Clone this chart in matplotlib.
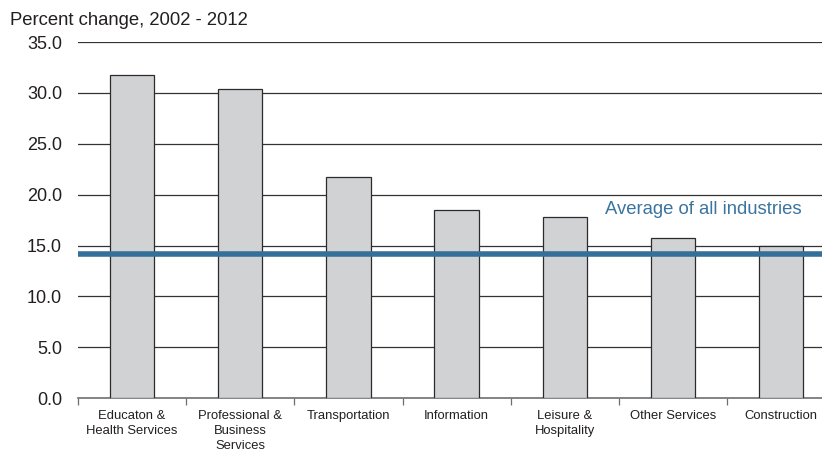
import numpy as np
import matplotlib
matplotlib.use("Agg")
import matplotlib.pyplot as plt

plt.rcParams['font.family'] = ['Liberation Sans', 'DejaVu Sans']

# data
categories = ["Educaton &\nHealth Services", "Professional &\nBusiness\nServices",
              "Transportation", "Information", "Leisure &\nHospitality",
              "Other Services", "Construction"]
pct_change = [31.8, 30.4, 21.7, 18.5, 17.8, 15.7, 15.0]
all_industries_avg = 14.2
y_ticks = [0, 5, 10, 15, 20, 25, 30, 35]

fig = plt.figure(figsize=(8.22, 4.53), dpi=100)
# plot area runs a little past the right edge of the image, as in the original
ax = fig.add_axes([0.095, 0.121, 0.921, 0.786])

x = np.arange(len(categories))
ax.bar(x, pct_change, width=0.41, color='#d1d2d4', edgecolor='#2b2b2b',
       linewidth=0.9, zorder=3)

ax.axhline(all_industries_avg, color='#35709a', linewidth=4, zorder=4)
ax.text(6.19, 18.5, "Average of all industries", color='#3a74a0',
        fontsize=13.3, ha='right', va='center')

ax.set_xlim(-0.5, len(categories) - 0.5)
ax.set_ylim(0, 35)
ax.set_yticks(y_ticks)
ax.set_yticklabels([f"{v:.1f}" for v in y_ticks], fontsize=13, color='#231f20')
for v in y_ticks[1:]:
    ax.axhline(v, color='#333333', linewidth=0.9, zorder=1)

# category labels centred, ticks at boundaries
ax.set_xticks(np.arange(len(categories) + 1) - 0.5)
ax.set_xticklabels([])
ax.tick_params(axis='x', length=5, width=0.9, color='#6d6e71', direction='out')
ax.tick_params(axis='y', length=0, pad=11.5)
for i, c in enumerate(categories):
    ax.text(i, -1.2, c, ha='center', va='top', fontsize=9.4, color='#231f20',
            linespacing=1.3)

for s in ['top', 'right', 'left']:
    ax.spines[s].set_visible(False)
ax.spines['bottom'].set_color('#6d6e71')
ax.spines['bottom'].set_linewidth(1.2)

fig.text(0.012, 0.955, "Percent change, 2002 - 2012", fontsize=13.3,
         color='#231f20', ha='left', va='center')

fig.savefig("out.png", dpi=100)
